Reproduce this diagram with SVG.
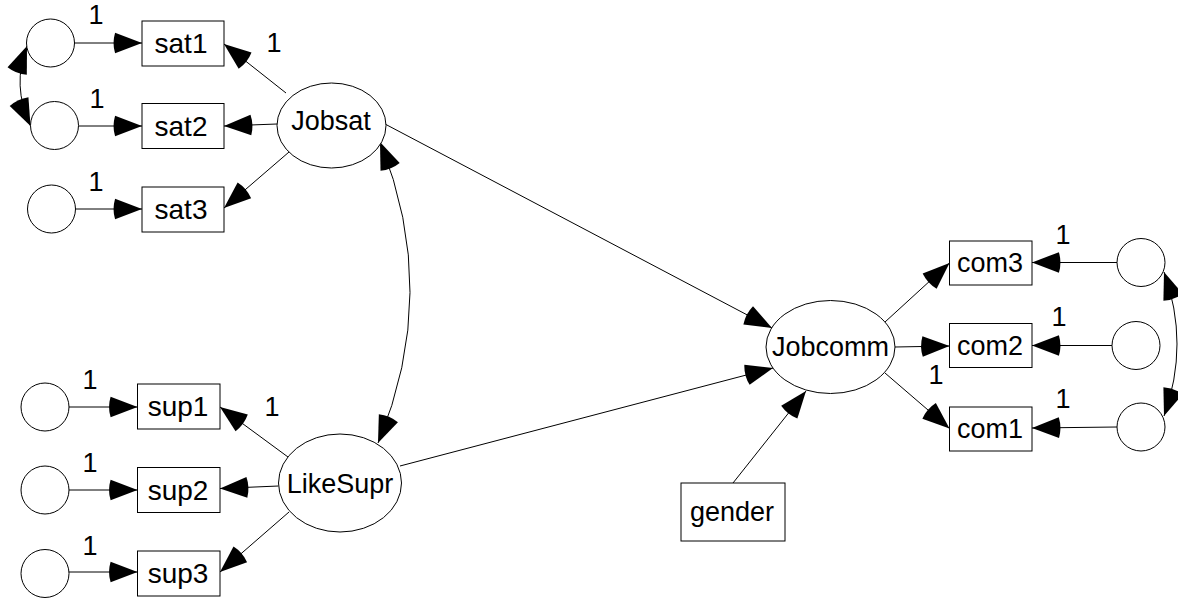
<svg xmlns="http://www.w3.org/2000/svg" width="1178" height="598" viewBox="0 0 1178 598">
<style>
.n{fill:#fff;stroke:#000;stroke-width:1}
.t{font-family:"Liberation Sans",Arial,sans-serif;font-size:27px;fill:#000;text-anchor:middle}
.b{font-size:28px}
.w{font-family:"Liberation Sans",Arial,sans-serif;font-size:27px;fill:#000;text-anchor:middle}
.c{fill:none;stroke:#000;stroke-width:1}
.a{marker-end:url(#ah)}
.d{marker-start:url(#ah);marker-end:url(#ah)}
</style>
<defs>
<marker id="ah" markerUnits="userSpaceOnUse" markerWidth="30" markerHeight="22" viewBox="-3 0 29 20" refX="26" refY="10" orient="auto-start-reverse">
<path d="M0,0 L26,10 L0,20 Q-3,10 0,0 z" fill="#000"/>
</marker>
</defs>
<rect width="1178" height="598" fill="#fff"/>
<g id="connectors">
<path class="c a" d="M74,43 L142,43"/>
<path class="c a" d="M78.5,126 L142,126"/>
<path class="c a" d="M75.5,209 L142,209"/>
<path class="c a" d="M286,93 L224,44"/>
<path class="c a" d="M277,124 L224,126"/>
<path class="c a" d="M289,152 L224,208"/>
<path class="c d" d="M27,46 Q11.5,85.5 30.5,126"/>
<path class="c a" d="M69,407 L137.5,407"/>
<path class="c a" d="M69,490 L137.5,490"/>
<path class="c a" d="M69,572 L137.5,572"/>
<path class="c a" d="M288,457 L220,407"/>
<path class="c a" d="M278.5,486 L220,488.5"/>
<path class="c a" d="M289,512 L220,572"/>
<path class="c d" d="M380,142 Q441,292.5 378,443"/>
<path class="c a" d="M385,124 L772,328"/>
<path class="c a" d="M400,466 L773,368"/>
<path class="c a" d="M733,483 L806,391"/>
<path class="c a" d="M885,322 L949.5,263"/>
<path class="c a" d="M895,347 L949.5,346"/>
<path class="c a" d="M885,373 L949.5,428.5"/>
<path class="c a" d="M1117,262.5 L1032,262.5"/>
<path class="c a" d="M1112,345.5 L1032,345.5"/>
<path class="c a" d="M1117,427 L1032,428"/>
<path class="c d" d="M1164,272 Q1190,344 1164,416"/>
</g>
<g id="weights">
<text class="w" x="96" y="24">1</text>
<text class="w" x="97" y="108">1</text>
<text class="w" x="96" y="191">1</text>
<text class="w" x="274" y="52">1</text>
<text class="w" x="90" y="389">1</text>
<text class="w" x="90" y="472">1</text>
<text class="w" x="90" y="555">1</text>
<text class="w" x="272" y="416">1</text>
<text class="w" x="1063" y="244">1</text>
<text class="w" x="1059" y="326">1</text>
<text class="w" x="1063" y="408">1</text>
<text class="w" x="936" y="384">1</text>
</g>
<g id="e_sat1"><circle class="n" cx="50.5" cy="43" r="24"/></g>
<g id="e_sat2"><circle class="n" cx="54.5" cy="125.5" r="24"/></g>
<g id="e_sat3"><circle class="n" cx="51.5" cy="209" r="24"/></g>
<g id="sat1"><rect class="n" x="142" y="21" width="82" height="45"/><text class="t b" x="181" y="53">sat1</text></g>
<g id="sat2"><rect class="n" x="142" y="103.5" width="82" height="45"/><text class="t b" x="181" y="135.5">sat2</text></g>
<g id="sat3"><rect class="n" x="142" y="187" width="82" height="45"/><text class="t b" x="181" y="219">sat3</text></g>
<g id="Jobsat"><ellipse class="n" cx="331.5" cy="125.5" rx="54.5" ry="42.5"/><text class="t" x="331" y="130">Jobsat</text></g>
<g id="e_sup1"><circle class="n" cx="45" cy="407" r="24"/></g>
<g id="e_sup2"><circle class="n" cx="45" cy="490" r="24"/></g>
<g id="e_sup3"><circle class="n" cx="45" cy="573.5" r="24"/></g>
<g id="sup1"><rect class="n" x="137.5" y="384" width="82.5" height="45"/><text class="t b" x="178" y="416">sup1</text></g>
<g id="sup2"><rect class="n" x="137.5" y="467.5" width="82.5" height="45"/><text class="t b" x="178" y="499.5">sup2</text></g>
<g id="sup3"><rect class="n" x="137.5" y="551" width="82.5" height="45"/><text class="t b" x="178" y="583">sup3</text></g>
<g id="LikeSupr"><ellipse class="n" cx="340" cy="483" rx="61.5" ry="49"/><text class="t" x="340" y="493">LikeSupr</text></g>
<g id="Jobcomm"><ellipse class="n" cx="830.5" cy="347" rx="64.5" ry="46.5"/><text class="t" x="830.5" y="356">Jobcomm</text></g>
<g id="gender"><rect class="n" x="681" y="483" width="104" height="58"/><text class="t" x="732" y="521">gender</text></g>
<g id="com3"><rect class="n" x="949.5" y="241" width="82.5" height="44"/><text class="t" x="990" y="272">com3</text></g>
<g id="com2"><rect class="n" x="949.5" y="323.5" width="82.5" height="44"/><text class="t" x="990" y="354.5">com2</text></g>
<g id="com1"><rect class="n" x="949.5" y="407" width="82.5" height="44"/><text class="t" x="990" y="438">com1</text></g>
<g id="e_com3"><circle class="n" cx="1141" cy="262.5" r="24"/></g>
<g id="e_com2"><circle class="n" cx="1136" cy="345.5" r="24"/></g>
<g id="e_com1"><circle class="n" cx="1141" cy="427" r="24"/></g>
</svg>
